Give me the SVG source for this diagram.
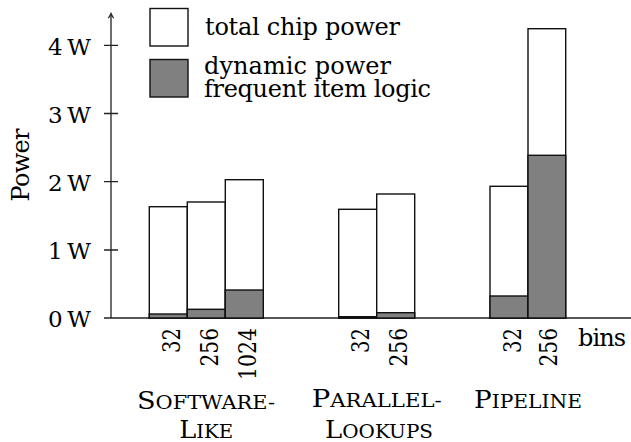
<svg xmlns="http://www.w3.org/2000/svg" width="631" height="442" viewBox="0 0 631 442">
<style>
text{font-family:"DejaVu Serif","Liberation Serif",serif;font-size:24px;fill:#000}
.sc{font-size:18.5px}
.tick{font-size:23px}
.axis{stroke:#222;stroke-width:1.3;fill:none}
.bar{fill:#fff;stroke:#111;stroke-width:1.4}
.dyn{fill:#808080;stroke:#111;stroke-width:1.4}
.num{font-size:24px}
</style>
<rect width="631" height="442" fill="#fff"/>
<g id="axes">
<path class="axis" d="M104,318 H631 M111,318 V14"/>
<path class="axis" d="M108.3,18.2 Q110,16 111,13.5 Q112,16 113.7,18.2"/>
<path class="axis" d="M104,45.3 H118 M104,113.5 H118 M104,181.7 H118 M104,250 H118"/>
<text class="tick" x="91" y="54.5" text-anchor="end" textLength="43">4 W</text>
<text class="tick" x="91" y="122.7" text-anchor="end" textLength="43">3 W</text>
<text class="tick" x="91" y="190.9" text-anchor="end" textLength="43">2 W</text>
<text class="tick" x="91" y="259.2" text-anchor="end" textLength="43">1 W</text>
<text class="tick" x="91" y="327.2" text-anchor="end" textLength="43">0 W</text>
<text transform="translate(28.5,165) rotate(-90)" text-anchor="middle" textLength="73">Power</text>
</g>
<g id="legend">
<rect class="bar" x="150" y="8.5" width="38" height="37.5"/>
<rect class="dyn" x="150" y="59.5" width="38" height="37.5"/>
<text x="205" y="35" textLength="195">total chip power</text>
<text x="204" y="74" textLength="187">dynamic power</text>
<text x="204" y="97" textLength="227">frequent item logic</text>
</g>
<g id="software-like">
<rect class="bar" x="149.3" y="206.7" width="38" height="111.3"/>
<rect class="dyn" x="149.3" y="314" width="38" height="4"/>
<rect class="bar" x="187.3" y="202" width="38" height="116"/>
<rect class="dyn" x="187.3" y="309.3" width="38" height="8.7"/>
<rect class="bar" x="225.3" y="179.7" width="38" height="138.3"/>
<rect class="dyn" x="225.3" y="290" width="38" height="28"/>
<text class="num" transform="translate(179.5,328) rotate(-90)" text-anchor="end" textLength="25" lengthAdjust="spacingAndGlyphs">32</text>
<text class="num" transform="translate(217.5,328) rotate(-90)" text-anchor="end" textLength="38.5" lengthAdjust="spacingAndGlyphs">256</text>
<text class="num" transform="translate(255.5,328) rotate(-90)" text-anchor="end" textLength="52" lengthAdjust="spacingAndGlyphs">1024</text>
<text x="206" y="408.5" text-anchor="middle" textLength="138" lengthAdjust="spacingAndGlyphs">S<tspan class="sc">OFTWARE-</tspan></text>
<text x="206.3" y="437.5" text-anchor="middle" textLength="54" lengthAdjust="spacingAndGlyphs">L<tspan class="sc">IKE</tspan></text>
</g>
<g id="parallel-lookups">
<rect class="bar" x="338.7" y="209.3" width="38" height="108.7"/>
<rect class="dyn" x="338.7" y="316.7" width="38" height="1.3"/>
<rect class="bar" x="376.7" y="194" width="38" height="124"/>
<rect class="dyn" x="376.7" y="312.7" width="38" height="5.3"/>
<text class="num" transform="translate(368.9,328) rotate(-90)" text-anchor="end" textLength="25" lengthAdjust="spacingAndGlyphs">32</text>
<text class="num" transform="translate(406.9,328) rotate(-90)" text-anchor="end" textLength="38.5" lengthAdjust="spacingAndGlyphs">256</text>
<text x="376.7" y="407" text-anchor="middle" textLength="130" lengthAdjust="spacingAndGlyphs">P<tspan class="sc">ARALLEL-</tspan></text>
<text x="379" y="437.5" text-anchor="middle" textLength="108" lengthAdjust="spacingAndGlyphs">L<tspan class="sc">OOKUPS</tspan></text>
</g>
<g id="pipeline">
<rect class="bar" x="490" y="186.3" width="38" height="131.7"/>
<rect class="dyn" x="490" y="296" width="38" height="22"/>
<rect class="bar" x="528" y="28.7" width="37.7" height="289.3"/>
<rect class="dyn" x="528" y="155.3" width="37.7" height="162.7"/>
<text class="num" transform="translate(520.5,328) rotate(-90)" text-anchor="end" textLength="25" lengthAdjust="spacingAndGlyphs">32</text>
<text class="num" transform="translate(557,328) rotate(-90)" text-anchor="end" textLength="38.5" lengthAdjust="spacingAndGlyphs">256</text>
<text x="528" y="407.5" text-anchor="middle" textLength="108" lengthAdjust="spacingAndGlyphs">P<tspan class="sc">IPELINE</tspan></text>
<text x="578" y="346" textLength="48">bins</text>
</g>
</svg>
